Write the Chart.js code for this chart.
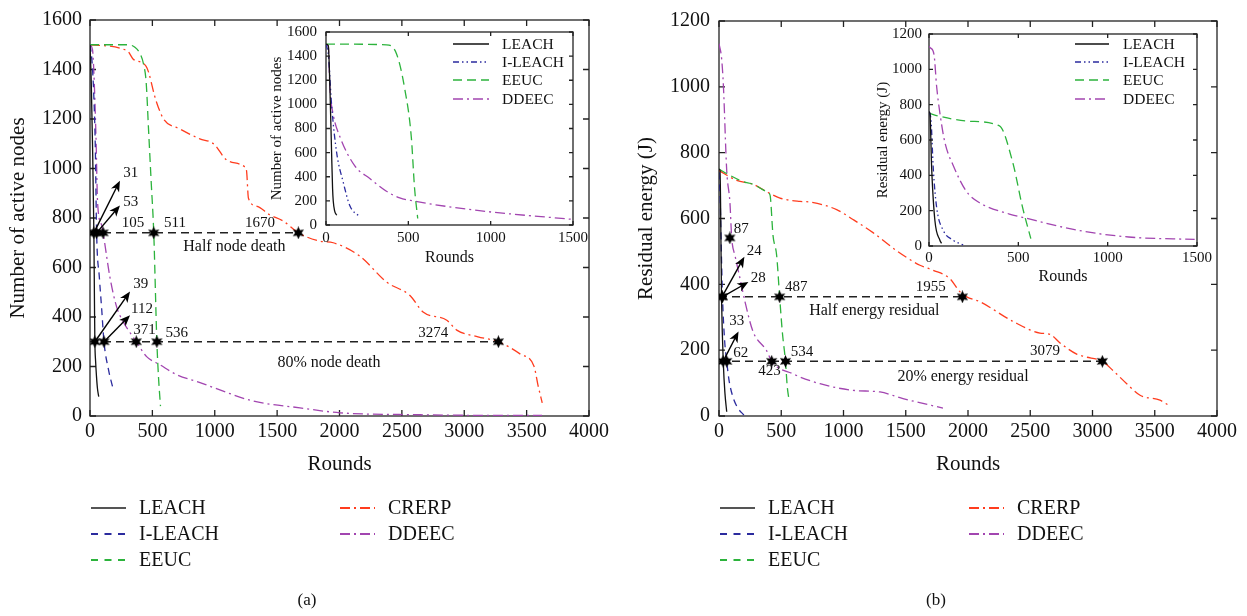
<!DOCTYPE html>
<html>
<head>
<meta charset="utf-8">
<script src="https://cdn.jsdelivr.net/npm/chart.js@4.4.1/dist/chart.umd.min.js"></script>
<style>
  html, body { margin: 0; background: #fff; overflow: hidden; }
  #wrap { position: relative; width: 1247px; height: 616px; }
  canvas { position: absolute; }
  .cap { position: absolute; top: 590px; width: 60px; text-align: center;
         font: 17px 'Liberation Serif', 'Times New Roman', serif; color: #111; }
</style>
</head>
<body>
<div id="wrap">
  <canvas id="nodesMain" width="620" height="616" style="left:0;top:0"></canvas>
  <canvas id="energyMain" width="627" height="616" style="left:620px;top:0"></canvas>
  <canvas id="nodesInset" width="330" height="260" style="left:262px;top:14px"></canvas>
  <canvas id="energyInset" width="350" height="272" style="left:865px;top:18px"></canvas>
  <div class="cap" style="left:277px">(a)</div>
  <div class="cap" style="left:906px">(b)</div>
</div>
<script>
// ---- (a) number of active nodes vs rounds ----
const leachRoundsA = [0, 10, 20, 31, 36, 39, 45, 52, 60, 70];
const leachNodesA = [1500, 1350, 1100, 740, 450, 300, 220, 160, 110, 78];
const ileachRoundsA = [0, 15, 30, 42, 53, 75, 94, 112, 147, 186];
const ileachNodesA = [1500, 1440, 1300, 1100, 740, 560, 430, 300, 190, 108];
const eeucRoundsA = [0, 300, 360, 400, 430, 450, 470, 490, 511, 536, 550, 565];
const eeucNodesA = [1500, 1500, 1490, 1465, 1420, 1350, 1150, 950, 740, 300, 150, 40];
const crerpRoundsA = [0, 300, 350, 450, 530, 590, 720, 880, 990, 1100, 1240, 1255, 1270, 1340, 1440, 1550, 1670, 1840, 1950, 2160, 2380, 2565, 2670, 2860, 2940, 3110, 3274, 3450, 3560, 3590, 3625];
const crerpNodesA = [1500, 1475, 1440, 1413, 1273, 1200, 1160, 1120, 1100, 1033, 1007, 990, 880, 847, 813, 787, 740, 707, 700, 647, 540, 487, 420, 387, 347, 320, 300, 250, 200, 127, 53];
const ddeecRoundsA = [0, 20, 30, 48, 61, 94, 105, 160, 214, 267, 334, 371, 454, 561, 695, 882, 1000, 1310, 1683, 2004, 2650, 3000, 3624];
const ddeecNodesA = [1500, 1480, 1400, 1127, 860, 770, 740, 560, 440, 380, 327, 300, 240, 207, 167, 135, 113, 60, 33, 13, 5, 3, 2];

// first 1500 rounds, zoomed panel
const leachRoundsAz = [0, 14, 24, 34, 40, 44, 52, 65];
const leachNodesAz = [1500, 1486, 1128, 597, 300, 199, 120, 80];
const ileachRoundsAz = [0, 15, 34, 65, 104, 145, 201];
const ileachNodesAz = [1500, 1400, 995, 597, 358, 159, 72];
const eeucRoundsAz = [0, 367, 428, 478, 518, 538, 557];
const eeucNodesAz = [1500, 1494, 1420, 1130, 730, 303, 54];
const ddeecRoundsAz = [0, 14, 24, 44, 85, 175, 266, 367, 448, 527, 931, 1494];
const ddeecNodesAz = [1500, 1480, 1130, 915, 730, 490, 385, 280, 225, 200, 119, 47];

const halfNodeLevel = 740;
const halfNodeRounds = [31, 53, 105, 511, 1670];
const deadNodeLevel = 300;
const deadNodeRounds = [39, 112, 371, 536, 3274];

// ---- (b) residual energy vs rounds ----
const leachRoundsB = [0, 8, 21, 35, 48, 62];
const leachEnergyB = [750, 746, 347, 158, 68, 13];
const ileachRoundsB = [0, 10, 20, 28, 45, 62, 80, 110, 150, 200];
const ileachEnergyB = [740, 650, 480, 362, 230, 166, 110, 60, 25, 3];
const eeucRoundsB = [0, 88, 193, 273, 383, 410, 434, 463, 487, 510, 534, 548, 563];
const eeucEnergyB = [750, 731, 712, 704, 682, 671, 548, 488, 362, 250, 166, 90, 48];
const crerpRoundsB = [0, 142, 273, 394, 490, 651, 731, 945, 1076, 1237, 1427, 1614, 1719, 1855, 1936, 1990, 2096, 2363, 2578, 2659, 2739, 2873, 2940, 3079, 3165, 3275, 3382, 3542, 3622];
const crerpEnergyB = [746, 716, 704, 679, 662, 652, 650, 627, 597, 557, 502, 458, 443, 417, 377, 362, 347, 287, 252, 248, 222, 188, 180, 166, 138, 98, 63, 48, 30];
const ddeecRoundsB = [0, 21, 35, 62, 88, 102, 129, 169, 209, 273, 383, 423, 594, 811, 1076, 1293, 1478, 1799];
const ddeecEnergyB = [1131, 1086, 1006, 746, 647, 541, 487, 417, 347, 257, 198, 166, 128, 98, 78, 73, 53, 24];

const leachRoundsBz = [0, 5, 15, 33, 61, 70];
const leachEnergyBz = [760, 752, 438, 144, 33, 15];
const ileachRoundsBz = [0, 11, 24, 43, 80, 135, 191];
const ileachEnergyBz = [760, 715, 438, 217, 88, 33, 6];
const eeucRoundsBz = [0, 61, 228, 394, 468, 524, 570];
const eeucEnergyBz = [752, 734, 706, 680, 476, 217, 42];
const ddeecRoundsBz = [0, 9, 28, 43, 61, 89, 135, 209, 283, 450, 524, 839, 1117, 1487];
const ddeecEnergyBz = [1130, 1121, 1084, 900, 752, 586, 457, 310, 245, 181, 162, 88, 51, 37];

const halfEnergyLevel = 362;
const halfEnergyRounds = [24, 28, 487, 1955];
const lowEnergyLevel = 166;
const lowEnergyRounds = [33, 62, 423, 534, 3079];
const ddeecMarkRound = 87;
const ddeecMarkEnergy = 541;

// ---- styling ----
const SERIF = "'Liberation Serif', 'Times New Roman', serif";
Chart.defaults.font.family = SERIF;
Chart.defaults.color = '#111';

const COLORS = {
  'LEACH': '#111111',
  'I-LEACH': '#2b2b9e',
  'EEUC': '#2cb33c',
  'CRERP': '#ff3c1e',
  'DDEEC': '#a245b0'
};
const DASH = {
  'LEACH': [],
  'I-LEACH': [7, 5],
  'EEUC': [9, 5],
  'CRERP': [10, 4, 2, 4],
  'DDEEC': [10, 4, 2, 4]
};
const DOT_DASH = [6, 3, 1.5, 3, 1.5, 3];

function makeStar(size) {
  const c = document.createElement('canvas');
  c.width = c.height = size;
  const g = c.getContext('2d');
  const r = size / 2, ri = r * 0.5;
  g.beginPath();
  for (let i = 0; i < 12; i++) {
    const a = -Math.PI / 2 + i * Math.PI / 6;
    const rr = i % 2 ? ri : r;
    g.lineTo(r + rr * Math.cos(a), r + rr * Math.sin(a));
  }
  g.closePath();
  g.fillStyle = '#000';
  g.fill();
  return c;
}
const starGlyph = makeStar(13);

function curve(name, rounds, values, slot, dash) {
  return {
    label: name,
    data: rounds.map((r, i) => ({ x: r, y: values[i] })),
    borderColor: COLORS[name],
    borderDash: dash || DASH[name],
    borderWidth: 1.3,
    pointRadius: 0,
    cubicInterpolationMode: 'monotone',
    order: 2,
    keySlot: slot
  };
}

function level(y, lastRound) {
  return {
    data: [{ x: 0, y: y }, { x: lastRound, y: y }],
    borderColor: '#222', borderWidth: 1.5, borderDash: [8, 5],
    pointRadius: 0, order: 1
  };
}

function stars(points) {
  return { data: points, showLine: false, pointStyle: starGlyph, pointRadius: 6, order: 0 };
}

// box with inward tick marks on all four sides
function framePlugin(tick) {
  return {
    id: 'frame',
    beforeDatasetsDraw(chart) {
      const { ctx, chartArea: a, scales: { x, y } } = chart;
      ctx.save();
      ctx.strokeStyle = '#222';
      ctx.lineWidth = 1.3;
      ctx.strokeRect(a.left, a.top, a.right - a.left, a.bottom - a.top);
      ctx.beginPath();
      x.ticks.forEach(t => {
        const p = x.getPixelForValue(t.value);
        ctx.moveTo(p, a.bottom); ctx.lineTo(p, a.bottom - tick);
        ctx.moveTo(p, a.top); ctx.lineTo(p, a.top + tick);
      });
      y.ticks.forEach(t => {
        const p = y.getPixelForValue(t.value);
        ctx.moveTo(a.left, p); ctx.lineTo(a.left + tick, p);
        ctx.moveTo(a.right, p); ctx.lineTo(a.right - tick, p);
      });
      ctx.stroke();
      ctx.restore();
    }
  };
}

// arrows and text tags placed in data coordinates
function notesPlugin(arrows, tags) {
  return {
    id: 'notes',
    afterDatasetsDraw(chart) {
      const { ctx, scales: { x, y } } = chart;
      ctx.save();
      ctx.fillStyle = '#000';
      ctx.strokeStyle = '#000';
      ctx.lineWidth = 1.4;
      arrows.forEach(([x0, y0, x1, y1]) => {
        const ax = x.getPixelForValue(x0), ay = y.getPixelForValue(y0);
        const bx = x.getPixelForValue(x1), by = y.getPixelForValue(y1);
        const ang = Math.atan2(by - ay, bx - ax);
        const c = Math.cos(ang), s = Math.sin(ang);
        ctx.beginPath();
        ctx.moveTo(ax, ay);
        ctx.lineTo(bx - 6 * c, by - 6 * s);
        ctx.stroke();
        ctx.beginPath();
        ctx.moveTo(bx, by);
        ctx.lineTo(bx - 11 * c + 4.5 * s, by - 11 * s - 4.5 * c);
        ctx.lineTo(bx - 8 * c, by - 8 * s);
        ctx.lineTo(bx - 11 * c - 4.5 * s, by - 11 * s + 4.5 * c);
        ctx.closePath();
        ctx.fill();
      });
      ctx.textBaseline = 'middle';
      ctx.fillStyle = '#111';
      tags.forEach(t => {
        ctx.font = (t.size || 15) + 'px ' + SERIF;
        ctx.textAlign = t.align || 'left';
        ctx.fillText(t.text, x.getPixelForValue(t.x), y.getPixelForValue(t.y));
      });
      ctx.restore();
    }
  };
}

// series key drawn at fixed columns / rows of the canvas
function keyPlugin(spec) {
  return {
    id: 'seriesKey',
    afterDraw(chart) {
      const ctx = chart.ctx;
      ctx.save();
      ctx.font = spec.size + 'px ' + SERIF;
      ctx.textBaseline = 'middle';
      ctx.textAlign = 'left';
      chart.data.datasets.forEach(ds => {
        if (!ds.keySlot) return;
        const [c, r] = ds.keySlot;
        const [x0, x1, tx] = spec.cols[c];
        const yy = spec.rows[r];
        const solid = !ds.borderDash || ds.borderDash.length === 0;
        ctx.strokeStyle = (solid && spec.solidColor) || ds.borderColor;
        ctx.lineWidth = solid && spec.solidWidth ? spec.solidWidth : spec.lineWidth;
        ctx.setLineDash(spec.dash && ds.borderDash && ds.borderDash.length === 2 ? spec.dash : (ds.borderDash || []));
        ctx.beginPath();
        ctx.moveTo(x0, yy);
        ctx.lineTo(x1, yy);
        ctx.stroke();
        ctx.setLineDash([]);
        ctx.fillStyle = '#111';
        ctx.fillText(ds.label, tx, yy + 1);
      });
      ctx.restore();
    }
  };
}

function axes(o) {
  return {
    x: {
      type: 'linear', min: 0, max: o.xMax,
      ticks: { stepSize: o.xStep, padding: o.xPad, font: { size: o.tickSize }, maxRotation: 0, autoSkip: false, callback: v => String(v) },
      grid: { display: false, drawTicks: false },
      border: { display: false },
      title: { display: true, text: 'Rounds', font: { size: o.xTitleSize }, padding: 0 },
      afterFit: s => { s.height = o.xHeight; }
    },
    y: {
      type: 'linear', min: 0, max: o.yMax,
      ticks: { stepSize: 200, padding: o.yPad, font: { size: o.tickSize }, autoSkip: false, callback: v => String(v) },
      grid: { display: false, drawTicks: false },
      border: { display: false },
      title: { display: true, text: o.yTitle, font: { size: o.yTitleSize }, padding: { top: o.yTitleGap, bottom: 0 } },
      afterFit: s => { s.width = o.yWidth; }
    }
  };
}

function build(id, datasets, scales, padding, plugins) {
  return new Chart(document.getElementById(id), {
    type: 'line',
    data: { datasets: datasets },
    options: {
      responsive: false,
      animation: false,
      events: [],
      layout: { padding: padding },
      scales: scales,
      plugins: { legend: { display: false }, tooltip: { enabled: false } }
    },
    plugins: plugins
  });
}

const mainKeyRows = [508, 534, 560];
const mainKeyStyle = { size: 20, lineWidth: 1.8, solidColor: '#555', solidWidth: 2.2, dash: [7, 6.5] };

// ---- (a) main ----
const halfTagsA = [[267, 980], [267, 864], [254, 780], [593, 780], [1242, 780]];
const deadTagsA = [[347, 533], [329, 433], [347, 347], [606, 336], [2632, 336]];
build('nodesMain', [
  stars(halfNodeRounds.map(r => ({ x: r, y: halfNodeLevel }))
    .concat(deadNodeRounds.map(r => ({ x: r, y: deadNodeLevel })))),
  level(halfNodeLevel, halfNodeRounds[halfNodeRounds.length - 1]),
  level(deadNodeLevel, deadNodeRounds[deadNodeRounds.length - 1]),
  curve('LEACH', leachRoundsA, leachNodesA, [0, 0]),
  curve('I-LEACH', ileachRoundsA, ileachNodesA, [0, 1]),
  curve('EEUC', eeucRoundsA, eeucNodesA, [0, 2]),
  curve('CRERP', crerpRoundsA, crerpNodesA, [1, 0]),
  curve('DDEEC', ddeecRoundsA, ddeecNodesA, [1, 1])
], axes({
  xMax: 4000, xStep: 500, xPad: 4, tickSize: 20, xTitleSize: 21, xHeight: 60.6,
  yMax: 1600, yPad: 8, yTitle: 'Number of active nodes', yTitleSize: 21, yTitleGap: 6, yWidth: 90
}), { left: 0, top: 15, right: 31, bottom: 139.4 }, [
  framePlugin(6),
  notesPlugin([
    [halfNodeRounds[0], halfNodeLevel, 240, 951],
    [halfNodeRounds[1], halfNodeLevel, 240, 851],
    [deadNodeRounds[0], deadNodeLevel, 321, 503],
    [deadNodeRounds[1], deadNodeLevel, 321, 407]
  ], halfNodeRounds.map((r, i) => ({ text: String(r), x: halfTagsA[i][0], y: halfTagsA[i][1] }))
    .concat(deadNodeRounds.map((r, i) => ({ text: String(r), x: deadTagsA[i][0], y: deadTagsA[i][1] })))
    .concat([
      { text: 'Half node death', x: 1157, y: 683, align: 'center', size: 16 },
      { text: '80% node death', x: 1916, y: 216, align: 'center', size: 16 }
    ])),
  keyPlugin(Object.assign({ cols: [[91, 126, 139], [340, 375, 388]], rows: mainKeyRows }, mainKeyStyle))
]);

// ---- (a) zoomed panel ----
build('nodesInset', [
  curve('LEACH', leachRoundsAz, leachNodesAz, [0, 0]),
  curve('I-LEACH', ileachRoundsAz, ileachNodesAz, [0, 1], DOT_DASH),
  curve('EEUC', eeucRoundsAz, eeucNodesAz, [0, 2]),
  curve('DDEEC', ddeecRoundsAz, ddeecNodesAz, [0, 3])
], axes({
  xMax: 1500, xStep: 500, xPad: 4, tickSize: 15, xTitleSize: 16, xHeight: 42,
  yMax: 1600, yPad: 9, yTitle: 'Number of active nodes', yTitleSize: 15, yTitleGap: 6, yWidth: 64
}), { left: 0, top: 10, right: 18, bottom: 7 }, [
  framePlugin(4),
  keyPlugin({ size: 15.5, lineWidth: 1.3, cols: [[191, 227, 240]], rows: [30, 48, 66, 85] })
]);

// ---- (b) main ----
const halfTagsB = [[222, 502], [255, 419], [530, 392], [1580, 392]];
const lowTagsB = [[83, 287], [115, 192], [316, 136], [576, 195], [2498, 196]];
build('energyMain', [
  stars(halfEnergyRounds.map(r => ({ x: r, y: halfEnergyLevel }))
    .concat(lowEnergyRounds.map(r => ({ x: r, y: lowEnergyLevel })))
    .concat([{ x: ddeecMarkRound, y: ddeecMarkEnergy }])),
  level(halfEnergyLevel, halfEnergyRounds[halfEnergyRounds.length - 1]),
  level(lowEnergyLevel, lowEnergyRounds[lowEnergyRounds.length - 1]),
  curve('LEACH', leachRoundsB, leachEnergyB, [0, 0]),
  curve('I-LEACH', ileachRoundsB, ileachEnergyB, [0, 1]),
  curve('EEUC', eeucRoundsB, eeucEnergyB, [0, 2]),
  curve('CRERP', crerpRoundsB, crerpEnergyB, [1, 0]),
  curve('DDEEC', ddeecRoundsB, ddeecEnergyB, [1, 1])
], axes({
  xMax: 4000, xStep: 500, xPad: 4, tickSize: 20, xTitleSize: 21, xHeight: 60.6,
  yMax: 1200, yPad: 9, yTitle: 'Residual energy (J)', yTitleSize: 21, yTitleGap: 14, yWidth: 99
}), { left: 0, top: 15, right: 30, bottom: 139.4 }, [
  framePlugin(6),
  notesPlugin([
    [halfEnergyRounds[0], halfEnergyLevel, 204, 484],
    [halfEnergyRounds[1], halfEnergyLevel, 236, 407],
    [lowEnergyRounds[0], lowEnergyLevel, 157, 257]
  ], halfEnergyRounds.map((r, i) => ({ text: String(r), x: halfTagsB[i][0], y: halfTagsB[i][1] }))
    .concat(lowEnergyRounds.map((r, i) => ({ text: String(r), x: lowTagsB[i][0], y: lowTagsB[i][1] })))
    .concat([
      { text: String(ddeecMarkRound), x: 118, y: 569 },
      { text: 'Half energy residual', x: 1248, y: 319, align: 'center', size: 16 },
      { text: '20% energy residual', x: 1960, y: 118, align: 'center', size: 16 }
    ])),
  keyPlugin(Object.assign({ cols: [[100, 135, 148], [349, 384, 397]], rows: mainKeyRows }, mainKeyStyle))
]);

// ---- (b) zoomed panel ----
build('energyInset', [
  curve('LEACH', leachRoundsBz, leachEnergyBz, [0, 0]),
  curve('I-LEACH', ileachRoundsBz, ileachEnergyBz, [0, 1], DOT_DASH),
  curve('EEUC', eeucRoundsBz, eeucEnergyBz, [0, 2]),
  curve('DDEEC', ddeecRoundsBz, ddeecEnergyBz, [0, 3])
], axes({
  xMax: 1500, xStep: 500, xPad: 3, tickSize: 15, xTitleSize: 16, xHeight: 40,
  yMax: 1200, yPad: 7, yTitle: 'Residual energy (J)', yTitleSize: 15, yTitleGap: 9, yWidth: 64
}), { left: 0, top: 11, right: 16, bottom: 4 }, [
  framePlugin(4),
  keyPlugin({ size: 15.5, lineWidth: 1.3, cols: [[210, 244, 258]], rows: [26, 44, 62, 81] })
]);
</script>
</body>
</html>
